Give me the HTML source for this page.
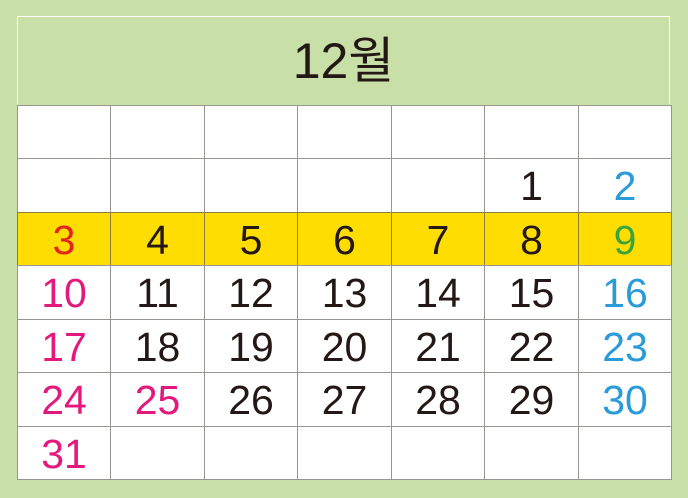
<!DOCTYPE html>
<html><head><meta charset="utf-8">
<style>
html,body{margin:0;padding:0;}
body{width:688px;height:498px;background:#c8e0a8;position:relative;overflow:hidden;font-family:"Liberation Sans","Noto Sans CJK KR",sans-serif;}
#header{position:absolute;left:17px;top:16px;width:653px;height:88px;border:1px solid #fff;border-bottom:none;box-sizing:border-box;}
#title{position:absolute;left:0;right:0;top:14px;text-align:center;font-size:50px;color:#231815;line-height:60px;}
.cell{position:absolute;box-sizing:border-box;border:1px solid #9a9592;background:#fff;text-align:center;font-size:41px;line-height:55px;color:#231815;font-weight:300;}
.hl{background:#ffdd00;border-color:#8a7f3a;}
</style></head>
<body>
<div id="header"><div id="title"></div></div>
<div id="grid"></div>
<script>
const monthTitle = "12월";
const firstWeekday = 5;
const daysInMonth = 31;
const highlightRow = 2;
const dayColors = {3:"#e2241b",9:"#3aa53a",10:"#e3197d",17:"#e3197d",24:"#e3197d",25:"#e3197d",31:"#e3197d",2:"#2a9ad9",16:"#2a9ad9",23:"#2a9ad9",30:"#2a9ad9"};
const leadingEmptyRows = 1;
document.getElementById('title').textContent = monthTitle;
const grid = document.getElementById('grid');
const x0=17, y0=105, cw=93.43, ch=53.43, rows=7, cols=7;
for(let r=0;r<rows;r++){
  for(let c=0;c<cols;c++){
    const el=document.createElement('div');
    el.className='cell'+(r===highlightRow?' hl':'');
    
    
    const left=Math.round(x0+c*cw), top=Math.round(y0+r*ch);
    const right=Math.round(x0+(c+1)*cw), bottom=Math.round(y0+(r+1)*ch);
    el.style.left=left+'px';el.style.top=top+'px';
    el.style.width=(right-left+1)+'px';el.style.height=(bottom-top+1)+'px';
    const idx=(r-leadingEmptyRows)*cols+c-firstWeekday+1;
    if(idx>=1&&idx<=daysInMonth){
      el.textContent=idx;
      if(dayColors[idx]) el.style.color=dayColors[idx];
    }
    grid.appendChild(el);
  }
}
</script>
</body></html>
